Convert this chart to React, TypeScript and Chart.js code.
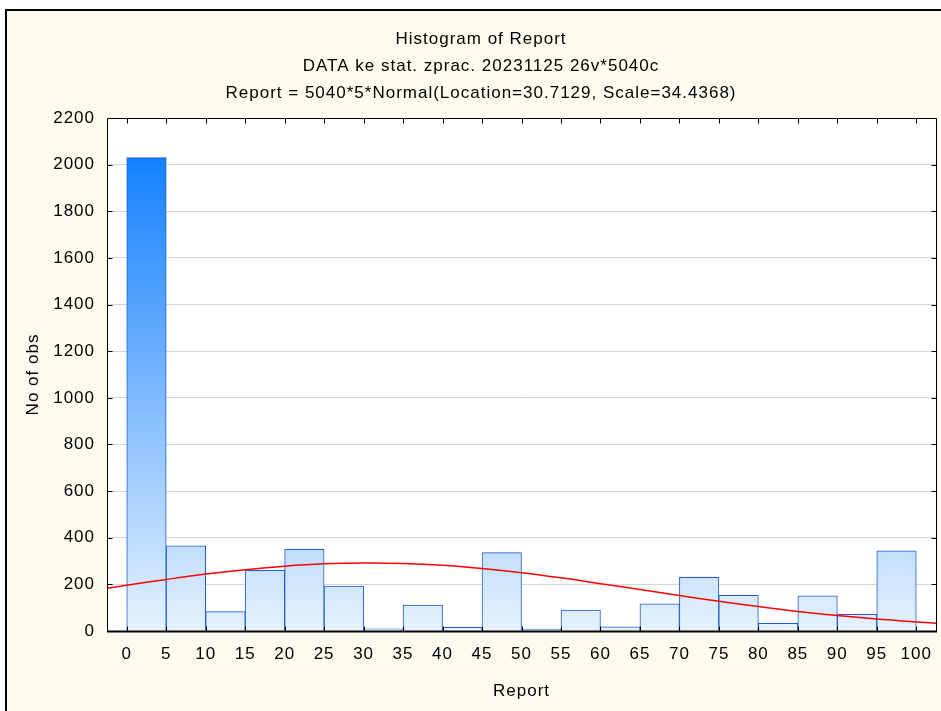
import React, { useEffect, useRef } from 'react';
import { Chart, registerables } from 'chart.js';

Chart.register(...registerables);

const titleLines = [
  'Histogram of Report',
  'DATA ke stat. zprac. 20231125 26v*5040c',
  'Report = 5040*5*Normal(Location=30.7129, Scale=34.4368)',
];
const xTitle = 'Report';
const yTitle = 'No of obs';

const binStarts = [0, 5, 10, 15, 20, 25, 30, 35, 40, 45, 50, 55, 60, 65, 70, 75, 80, 85, 90, 95];
const binWidth = 5;
const counts = [2030, 365, 83, 260, 350, 193, 9, 111, 16, 336, 8, 90, 18, 117, 230, 153, 33, 151, 72, 344];

const curveX = [-2.5, 0, 5, 10, 15, 20, 25, 30, 35, 40, 45, 50, 55, 60, 65, 70, 75, 80, 85, 90, 95, 100, 102.5];
const curveY = [183, 196, 221, 244, 263, 278, 288, 292, 290, 282, 268, 250, 228, 203, 178, 152, 128, 105, 84, 66, 51, 39, 33];

const xTicks = [0, 5, 10, 15, 20, 25, 30, 35, 40, 45, 50, 55, 60, 65, 70, 75, 80, 85, 90, 95, 100];
const yTicks = [0, 200, 400, 600, 800, 1000, 1200, 1400, 1600, 1800, 2000, 2200];

const FONT = "'Liberation Sans', Arial, sans-serif";
const FONT_SIZE = 17;
const SPACING = '1px';

export default function App() {
  const ref = useRef<HTMLCanvasElement>(null);

  useEffect(() => {
    const canvas = ref.current;
    if (!canvas) return;

    const spacingPlugin = {
      id: 'spacing',
      beforeLayout(chart: any) {
        chart.ctx.letterSpacing = SPACING;
      },
      beforeDraw(chart: any) {
        chart.ctx.letterSpacing = SPACING;
      },
    };

    const backgroundPlugin = {
      id: 'bg',
      beforeDraw(chart: any) {
        const { ctx, chartArea: a, width, height } = chart;
        ctx.save();
        ctx.fillStyle = '#ffffff';
        ctx.fillRect(0, 0, width, height);
        ctx.fillStyle = '#fffaf0';
        ctx.fillRect(5, 9, width - 5, height - 9);
        ctx.fillStyle = '#000000';
        ctx.fillRect(5, 9, width - 5, 2);
        ctx.fillRect(5, 9, 2, height - 9);
        ctx.fillStyle = '#ffffff';
        ctx.fillRect(a.left, a.top, a.right - a.left, a.bottom - a.top);
        ctx.restore();
      },
    };

    const framePlugin = {
      id: 'frame',
      afterDraw(chart: any) {
        const { ctx, chartArea: a, scales } = chart;
        ctx.save();
        ctx.strokeStyle = '#000000';
        ctx.lineWidth = 1;
        const L = Math.round(a.left) + 0.5;
        const R = Math.round(a.right) + 0.5;
        const T = Math.round(a.top) + 0.5;
        const B = Math.round(a.bottom) + 0.5;
        ctx.beginPath();
        ctx.moveTo(L, B);
        ctx.lineTo(L, T);
        ctx.lineTo(R, T);
        ctx.lineTo(R, B);
        ctx.stroke();
        ctx.lineWidth = 2;
        ctx.beginPath();
        ctx.moveTo(L - 0.5, B);
        ctx.lineTo(R + 0.5, B);
        ctx.stroke();
        ctx.lineWidth = 1;
        ctx.beginPath();
        for (const v of yTicks) {
          const py = Math.round(scales.y.getPixelForValue(v)) + 0.5;
          ctx.moveTo(L, py);
          ctx.lineTo(L + 5, py);
          ctx.moveTo(R - 5, py);
          ctx.lineTo(R, py);
        }
        for (const v of xTicks) {
          const px = Math.round(scales.x.getPixelForValue(v)) + 0.5;
          ctx.moveTo(px, T);
          ctx.lineTo(px, T + 5);
          ctx.moveTo(px, B - 5);
          ctx.lineTo(px, B);
        }
        ctx.stroke();
        ctx.restore();
      },
    };

    const titlePlugin = {
      id: 'titles',
      afterDraw(chart: any) {
        const { ctx } = chart;
        ctx.save();
        ctx.letterSpacing = SPACING;
        ctx.font = `${FONT_SIZE}px ${FONT}`;
        ctx.fillStyle = '#000000';
        ctx.textAlign = 'center';
        ctx.textBaseline = 'middle';
        const cx = 481;
        const ys = [39, 66, 93];
        titleLines.forEach((t, i) => ctx.fillText(t, cx, ys[i]));
        ctx.restore();
      },
    };

    Chart.defaults.font.family = FONT;
    Chart.defaults.font.size = FONT_SIZE;
    Chart.defaults.color = '#000000';

    const maxCount = Math.max(...counts);

    const chart = new Chart(canvas, {
      type: 'bar',
      data: {
        datasets: [
          {
            type: 'line',
            data: curveX.map((x, i) => ({ x, y: curveY[i] })),
            borderColor: '#ff0000',
            borderWidth: 1.5,
            pointRadius: 0,
            tension: 0.4,
            fill: false,
            order: 1,
          } as any,
          {
            type: 'bar',
            data: binStarts.map((s, i) => ({ x: s + binWidth / 2, y: counts[i] })),
            backgroundColor: (c: any) => {
              const ch = c.chart;
              const a = ch.chartArea;
              if (!a) return '#c4dffa';
              const top = ch.scales.y.getPixelForValue(maxCount);
              const g = ch.ctx.createLinearGradient(0, top, 0, a.bottom);
              g.addColorStop(0, 'rgb(20,128,255)');
              g.addColorStop(1, 'rgb(230,242,253)');
              return g;
            },
            borderColor: '#1f5cd6',
            borderWidth: 1,
            barPercentage: 1,
            categoryPercentage: 1,
            order: 2,
          } as any,
        ],
      },
      options: {
        animation: false,
        responsive: false,
        layout: { padding: { top: 118, right: 5, left: 0, bottom: 0 } },
        plugins: {
          legend: { display: false },
          tooltip: { enabled: false },
          title: { display: false },
        },
        scales: {
          x: {
            type: 'linear',
            min: -2.5,
            max: 102.5,
            offset: false,
            afterBuildTicks: (s: any) => {
              s.ticks = xTicks.map((v) => ({ value: v }));
            },
            afterFit: (s: any) => {
              s.height = 80;
              s.paddingLeft = 0;
              s.paddingRight = 0;
            },
            grid: { display: false, drawTicks: false, offset: false },
            border: { display: false },
            ticks: { padding: 13, color: '#000', maxRotation: 0, autoSkip: false, callback: (v: any) => String(v) },
            title: {
              display: true,
              text: xTitle,
              color: '#000',
              padding: { top: 17, bottom: 9 },
            },
          },
          y: {
            type: 'linear',
            min: 0,
            max: 2200,
            afterBuildTicks: (s: any) => {
              s.ticks = yTicks.map((v) => ({ value: v }));
            },
            afterFit: (s: any) => {
              s.width = 107;
              s.paddingTop = 0;
              s.paddingBottom = 0;
            },
            grid: { color: '#d6d6d6', drawTicks: false },
            border: { display: false },
            ticks: { padding: 12, color: '#000', callback: (v: any) => String(v) },
            title: {
              display: true,
              text: yTitle,
              color: '#000',
              padding: { top: 23, bottom: 0 },
            },
          },
        } as any,
      },
      plugins: [spacingPlugin, backgroundPlugin, framePlugin, titlePlugin],
    });

    return () => chart.destroy();
  }, []);

  return (
    <div
      style={{
        position: 'absolute',
        left: 0,
        top: 0,
        width: 941,
        height: 711,
        overflow: 'hidden',
      }}
    >
      <canvas
        ref={ref}
        width={941}
        height={711}
        style={{ position: 'absolute', left: 0, top: 0, width: 941, height: 711 }}
      />
    </div>
  );
}
